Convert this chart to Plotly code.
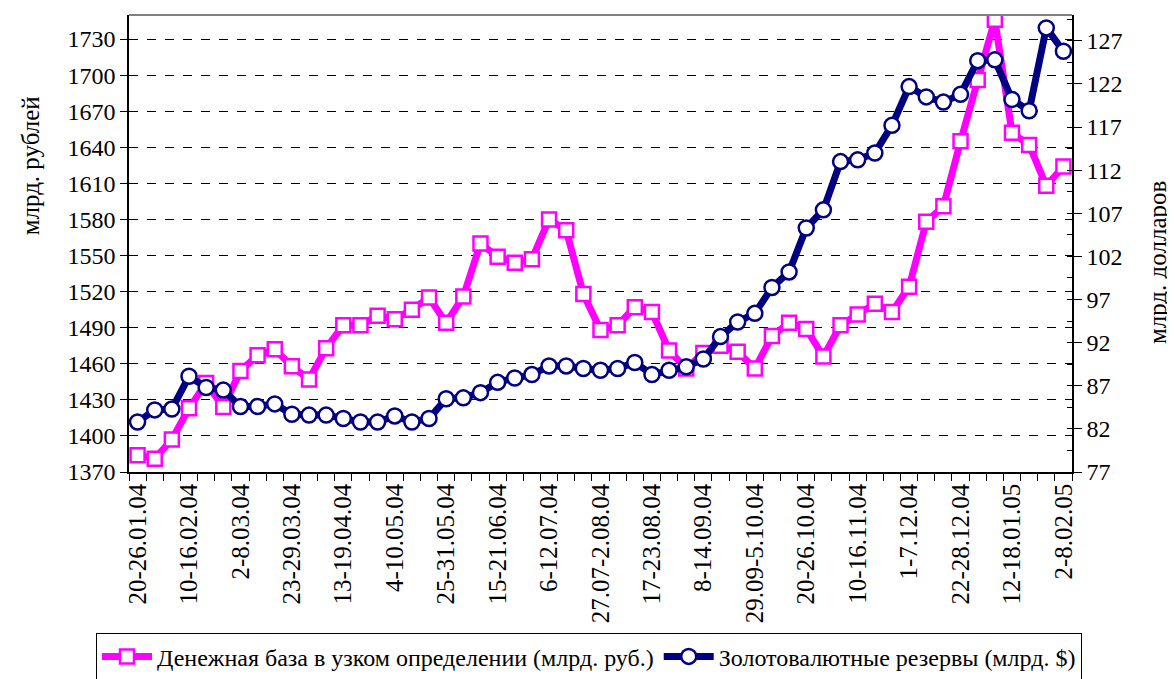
import plotly.graph_objects as go

weeks = [
    "20-26.01.04", "27.01-2.02.04", "3-9.02.04", "10-16.02.04", "17-23.02.04",
    "24.02-1.03.04", "2-8.03.04", "9-15.03.04", "16-22.03.04", "23-29.03.04",
    "30.03-5.04.04", "6-12.04.04", "13-19.04.04", "20-26.04.04", "27.04-3.05.04",
    "4-10.05.04", "11-17.05.04", "18-24.05.04", "25-31.05.04", "1-7.06.04",
    "8-14.06.04", "15-21.06.04", "22-28.06.04", "29.06-5.07.04", "6-12.07.04",
    "13-19.07.04", "20-26.07.04", "27.07-2.08.04", "3-9.08.04", "10-16.08.04",
    "17-23.08.04", "24-30.08.04", "31.08-7.09.04", "8-14.09.04", "15-21.09.04",
    "22-28.09.04", "29.09-5.10.04", "6-12.10.04", "13-19.10.04", "20-26.10.04",
    "27.10-2.11.04", "3-9.11.04", "10-16.11.04", "17-23.11.04", "24-30.11.04",
    "1-7.12.04", "8-14.12.04", "15-21.12.04", "22-28.12.04", "29.12.04-4.01.05",
    "5-11.01.05", "12-18.01.05", "19-25.01.05", "26.01-1.02.05", "2-8.02.05",
]

money_base = [
    1384, 1381, 1397, 1423, 1444, 1424, 1454, 1467, 1472, 1458,
    1447, 1473, 1492, 1492, 1500, 1497, 1505, 1515, 1494, 1516,
    1560, 1549, 1544, 1547, 1580, 1571, 1518, 1488, 1492, 1507,
    1503, 1471, 1456, 1469, 1475, 1470, 1456, 1483, 1494, 1489,
    1466, 1492, 1501, 1510, 1503, 1524, 1578, 1591, 1645, 1696,
    1746, 1652, 1642, 1608, 1624,
]

reserves = [
    82.8, 84.2, 84.3, 88.1, 86.8, 86.5, 84.6, 84.6, 84.9, 83.7,
    83.6, 83.6, 83.2, 82.8, 82.8, 83.5, 82.8, 83.2, 85.5, 85.6,
    86.2, 87.4, 87.9, 88.3, 89.3, 89.3, 89.0, 88.8, 89.0, 89.7,
    88.3, 88.8, 89.2, 90.1, 92.7, 94.4, 95.4, 98.4, 100.2, 105.3,
    107.4, 113.0, 113.2, 114.0, 117.2, 121.7, 120.5, 119.9, 120.8, 124.7,
    124.8, 120.2, 118.9, 128.5, 125.8,
]

left_ticks = list(range(1370, 1731, 30))
right_ticks = list(range(77, 128, 5))

name_base = "Денежная база в узком определении (млрд. руб.)"
name_res = "Золотовалютные резервы (млрд. $)"

x = list(range(len(weeks)))
FONT = "Liberation Serif"

fig = go.Figure()
fig.add_trace(go.Scatter(
    x=x, y=money_base, name=name_base, mode="lines+markers",
    line=dict(color="#FF00FF", width=7),
    marker=dict(symbol="square", size=14, color="white",
                line=dict(color="#FF00FF", width=2.5)),
))
fig.add_trace(go.Scatter(
    x=x, y=reserves, name=name_res, mode="lines+markers", yaxis="y2",
    line=dict(color="#000080", width=7),
    marker=dict(symbol="circle", size=15, color="white",
                line=dict(color="#000080", width=2.5)),
))

fig.update_layout(
    width=1175, height=679,
    margin=dict(l=121, r=111, t=7, b=210),
    paper_bgcolor="white", plot_bgcolor="white",
    font=dict(family=FONT, size=22, color="black"),
    showlegend=True,
    legend=dict(
        orientation="h", x=-0.035, xanchor="left", y=-0.353, yanchor="top",
        font=dict(family=FONT, size=24, color="black"),
        bordercolor="black", borderwidth=1, bgcolor="white",
        itemwidth=50, tracegroupgap=0,
    ),
    xaxis=dict(
        range=[-0.5, len(weeks) - 0.5],
        tickvals=x[::3], ticktext=weeks[::3],
        tickangle=-90, ticks="", showgrid=False, zeroline=False,
        showline=True, linecolor="black", linewidth=1.5,
        automargin=False,
        tickfont=dict(family=FONT, size=25, color="black"),
        minor=dict(ticks="outside", tick0=-0.5, dtick=1, ticklen=7,
                   tickcolor="black", showgrid=False),
    ),
    yaxis=dict(
        range=[1370, 1750], tickvals=left_ticks,
        ticks="outside", ticklen=7, tickcolor="black",
        showline=True, linecolor="black", linewidth=1.5,
        showgrid=True, gridcolor="black", griddash="dash", gridwidth=1,
        zeroline=False, automargin=False,
        tickfont=dict(family=FONT, size=24, color="black"),
    ),
    yaxis2=dict(
        overlaying="y", side="right",
        range=[77, 130], tickvals=right_ticks,
        ticks="outside", ticklen=8, tickcolor="black",
        showline=True, linecolor="black", linewidth=1.5,
        showgrid=False, zeroline=False, automargin=False,
        tickfont=dict(family=FONT, size=24, color="black"),
        minor=dict(ticks="inside", tick0=77, dtick=2.5, ticklen=5,
                   tickcolor="black", showgrid=False),
    ),
    shapes=[dict(type="line", xref="paper", yref="paper", x0=0, x1=1,
                 y0=1, y1=1, line=dict(color="#808080", width=2))],
    annotations=[
        dict(text="млрд. рублей", xref="paper", yref="paper",
             x=-0.105, y=0.671, textangle=-90, showarrow=False,
             xanchor="center", yanchor="middle",
             font=dict(family=FONT, size=25, color="black")),
        dict(text="млрд. долларов", xref="paper", yref="paper",
             x=1.09, y=0.459, textangle=-90, showarrow=False,
             xanchor="center", yanchor="middle",
             font=dict(family=FONT, size=25, color="black")),
    ],
)

fig.write_html("out.html")
